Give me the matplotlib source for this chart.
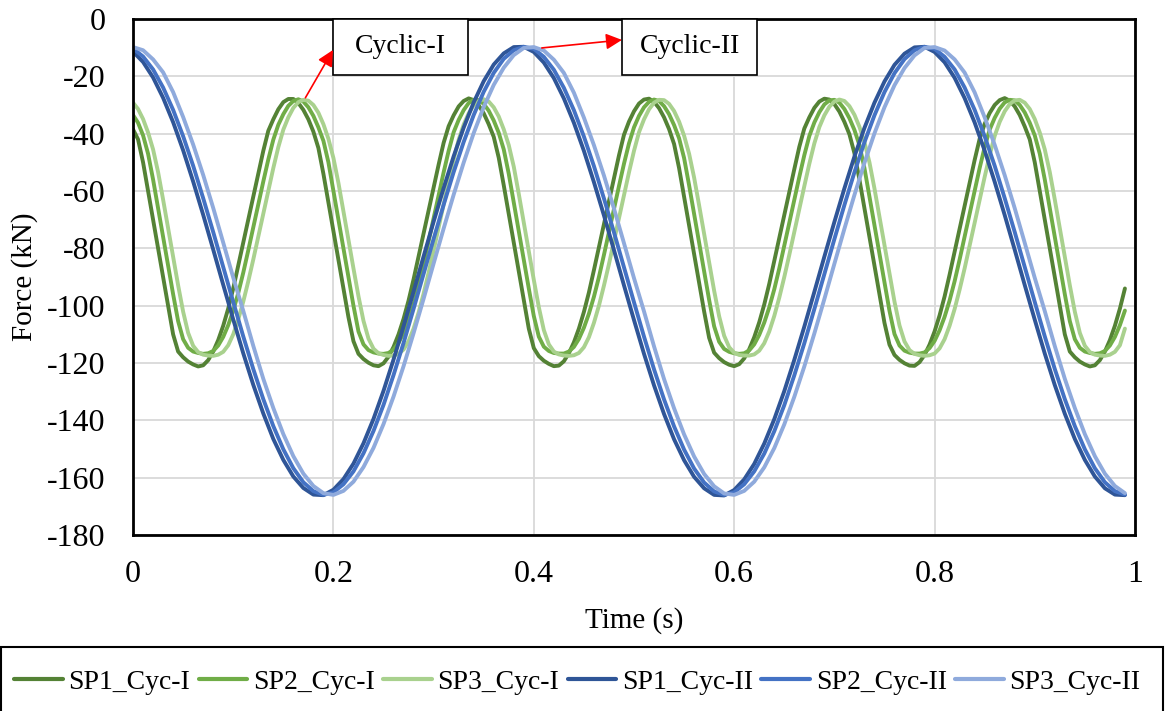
import numpy as np
import matplotlib
matplotlib.use('Agg')
import matplotlib.pyplot as plt
from matplotlib.patches import Rectangle

plt.rcParams['font.family'] = 'Liberation Serif'
plt.rcParams['axes.unicode_minus'] = False

# sampling instants (s)
time_cyc1 = np.linspace(0, 0.99, 199)   # 5 ms
time_cyc2 = np.linspace(0, 0.99, 100)   # 10 ms

# Cyclic-I force (kN)
sp1_cyc1 = [
    -38.5, -42, -50, -60, -70, -80, -90, -100, -110, -116, -118, -119.5, -120.5, -121.2, -120.8, -119,
    -116, -112, -107, -101, -94, -86, -78, -70, -62, -54, -46, -39, -35, -31.5, -29, -27.9,
    -27.9, -29.3, -31.7, -35, -39.3, -45, -54, -64, -74, -84, -94, -104, -112.4, -116.8, -118.6, -119.9,
    -120.8, -121.1, -120.1, -117.8, -114.4, -110, -104.6, -98.2, -90.8, -82.8, -74.8, -66.8, -58.8, -50.8,
    -43.2, -37.4, -33.6, -30.5, -28.6, -27.7,
    -28.3, -30.1, -32.9, -36.7, -41.1, -48.4, -58, -68, -78, -88, -98, -108, -114.8, -117.6, -119.2, -120.3,
    -121.1, -120.9, -119.4, -116.6, -112.8, -108, -102.2, -95.4, -87.6, -79.6, -71.6, -63.6, -55.6, -47.6,
    -40.4, -35.8, -32.2, -29.5, -28.1, -27.8,
    -28.9, -31.1, -34.3, -38.4, -43.6, -52, -62, -72, -82, -92, -102, -111.2, -116.4, -118.3, -119.7,
    -120.6, -121.1, -120.4, -118.4, -115.2, -111, -105.8, -99.6, -92.4, -84.4, -76.4, -68.4, -60.4, -52.4,
    -44.6, -38.2, -34.3, -31, -28.8, -27.8,
    -28.1, -29.7, -32.3, -35.9, -40.2, -46.8, -56, -66, -76, -86, -96, -106, -113.6, -117.2, -118.9, -120.1,
    -120.9, -121, -119.7, -117.2, -113.6, -109, -103.4, -96.8, -89.2, -81.2, -73.2, -65.2, -57.2, -49.2,
    -41.8, -36.6, -32.8, -30, -28.3, -27.6,
    -28.5, -30.5, -33.5, -37.5, -42, -50, -60, -70, -80, -90, -100, -110, -116, -118, -119.5, -120.5,
    -121.2, -120.8, -119, -116, -112, -107, -101, -94,
]
sp2_cyc1 = [
    -33.5, -36.2, -40.6, -47, -56, -66, -76, -86, -96, -105.4, -111.7, -114.7, -116, -116.5, -116.8, -116.6,
    -115.8, -113.9, -110.9, -106.8, -101.7, -95.6, -88.5, -80.7, -72.7, -64.7, -56.7, -49, -42.1, -36.9,
    -33.2, -30.3, -28.6, -28,
    -28.8, -30.8, -33.8, -37.8, -42.5, -50, -60, -70, -80, -90, -100, -109, -113.5, -115.5, -116.3, -116.7,
    -116.8, -116.5, -115.3, -113, -109.5, -105, -99.5, -93, -85.5, -77.5, -69.5, -61.5, -53.5, -46, -39.5,
    -35.2, -31.8, -29.3, -28.2,
    -28.3, -29.6, -32, -35.4, -39.7, -45.5, -54, -64, -74, -84, -94, -103.6, -110.8, -114.3, -115.8, -116.5,
    -116.7, -116.7, -116, -114.4, -111.6, -107.7, -102.8, -96.9, -90, -82.3, -74.3, -66.3, -58.3, -50.5,
    -43.4, -37.8, -33.8, -30.8, -28.9, -28.1,
    -28.6, -30.4, -33.2, -37, -41.6, -48.5, -58, -68, -78, -88, -98, -107.2, -112.6, -115.1, -116.1, -116.6,
    -116.8, -116.6, -115.6, -113.5, -110.2, -105.9, -100.6, -94.3, -87, -79.1, -71.1, -63.1, -55.1, -47.5,
    -40.8, -36.1, -32.5, -29.8, -28.4,
    -28.2, -29.2, -31.4, -34.6, -38.7, -44, -52, -62, -72, -82, -92, -101.8, -109.9, -113.9, -115.7, -116.4,
    -116.7, -116.7, -116.3, -114.8, -112.3, -108.6, -103.9, -98.2, -91.5, -83.9, -75.9, -67.9, -59.9, -52,
    -44.7, -38.6, -34.5, -31.3, -29.1, -28.2,
    -28.4, -30, -32.6, -36.2, -40.6, -47, -56, -66, -76, -86, -96, -105.4, -111.7, -114.7, -116, -116.5,
    -116.8, -116.6, -115.8, -113.9, -110.9, -106.8, -101.7,
]
sp3_cyc1 = [
    -29.2, -31.4, -34.9, -39.6, -45.5, -53.4, -63, -73, -83, -92.9, -102.1, -109.5, -114, -116.2, -117.1,
    -117.4, -117.5, -117.1, -116.1, -113.8, -110, -104.8, -98.6, -91.5, -83.9, -75.9, -67.9, -59.9, -52,
    -44.7, -38.6, -34.3, -31, -29, -28.2,
    -28.5, -30, -32.7, -36.7, -41.8, -48.5, -57.2, -67, -77, -87, -96.7, -105.3, -111.5, -115, -116.6,
    -117.2, -117.5, -117.4, -116.8, -115.3, -112.4, -108, -102.4, -95.8, -88.5, -80.7, -72.7, -64.7, -56.7,
    -49, -42.1, -36.8, -32.9, -30.1, -28.6,
    -28, -28.8, -30.8, -34, -38.5, -44, -51.5, -61, -71, -81, -91, -100.5, -108.5, -113.5, -116, -117,
    -117.4, -117.5, -117.3, -116.5, -114.5, -111, -106, -100, -93, -85.5, -77.5, -69.5, -61.5, -53.5, -46,
    -39.5, -35, -31.5, -29.2, -28.2,
    -28.3, -29.6, -32.1, -35.8, -40.7, -47, -55.3, -65, -75, -85, -94.8, -103.7, -110.5, -114.5, -116.4,
    -117.2, -117.4, -117.4, -117, -115.7, -113.1, -109, -103.6, -97.2, -90, -82.3, -74.3, -66.3, -58.3,
    -50.5, -43.4, -37.7, -33.6, -30.6, -28.8, -28.1,
    -28.6, -30.4, -33.4, -37.6, -42.9, -50, -59.1, -69, -79, -89, -98.6, -106.9, -112.5, -115.5, -116.8,
    -117.3, -117.5, -117.3, -116.7, -114.9, -111.7, -107, -101.2, -94.4, -87, -79.1, -71.1, -63.1, -55.1,
    -47.5, -40.8, -35.9, -32.2, -29.7, -28.4,
    -28.2, -29.2, -31.4, -34.9, -39.6, -45.5, -53.4, -63, -73, -83, -92.9, -102.1, -109.5, -114, -116.2,
    -117.1, -117.4, -117.5, -117.1, -116.1, -113.8, -108,
]

# Cyclic-II force (kN)
sp1_cyc2 = [
    -11.4, -15.0, -20.4, -27.5, -36.0, -45.8, -56.7, -68.3, -80.4, -92.7, -104.8, -116.6, -127.6, -137.6,
    -146.5, -153.8, -159.6, -163.6, -165.9, -166.1, -164.2, -160.5, -155.1, -148.0, -139.5, -129.7, -118.8,
    -107.2, -95.1, -82.8, -70.7, -59.0, -47.9, -37.9, -29.1, -21.7, -15.9, -12.0, -9.8, -9.7,
    -11.5, -15.2, -20.6, -27.7, -36.2, -46.0, -56.9, -68.5, -80.6, -92.9, -105.0, -116.8, -127.8, -137.8,
    -146.6, -153.9, -159.7, -163.7, -166.0, -166.2, -164.3, -160.6, -155.2, -148.1, -139.6, -129.8, -118.9,
    -107.3, -95.2, -82.9, -70.8, -59.1, -48.0, -38.0, -29.2, -21.8, -16.0, -12.1, -9.9, -9.7,
    -11.5, -15.1, -20.5, -27.6, -36.1, -45.9, -56.8, -68.4, -80.5, -92.8, -104.9, -116.7, -127.7, -137.7,
    -146.5, -153.8, -159.6, -163.7, -165.9, -166.1,
]
sp2_cyc2 = [
    -10.3, -13.1, -17.6, -23.9, -31.7, -40.9, -51.2, -62.5, -74.3, -86.5, -98.7, -110.7, -122.1, -132.6,
    -142.0, -150.1, -156.7, -161.6, -164.7, -166.0, -165.1, -162.3, -157.8, -151.5, -143.7, -134.6, -124.2,
    -113.0, -101.1, -88.9, -76.7, -64.8, -53.4, -42.9, -33.5, -25.4, -18.8, -13.9, -10.9, -9.7,
    -10.4, -13.2, -17.7, -24.0, -31.8, -41.0, -51.3, -62.6, -74.4, -86.6, -98.8, -110.8, -122.2, -132.7,
    -142.1, -150.2, -156.8, -161.7, -164.8, -166.0, -165.1, -162.3, -157.8, -151.6, -143.8, -134.7, -124.3,
    -113.1, -101.2, -89.0, -76.8, -64.9, -53.5, -43.0, -33.6, -25.5, -18.9, -14.0, -10.9, -9.7,
    -10.4, -13.2, -17.6, -23.9, -31.7, -40.9, -51.2, -62.5, -74.3, -86.5, -98.7, -110.7, -122.1, -132.6,
    -142.0, -150.1, -156.7, -161.6, -164.7, -165.9,
]
sp3_cyc2 = [
    -9.8, -10.9, -14.1, -18.6, -25.5, -34.2, -43.8, -54.4, -65.9, -78.0, -90.2, -101.8, -114.0, -125.5,
    -135.7, -144.8, -152.5, -158.6, -162.9, -165.4, -166.0, -164.6, -161.4, -156.3, -149.6, -141.3, -131.7,
    -121.1, -109.6, -97.6, -85.3, -73.1, -61.3, -50.1, -39.8, -30.7, -23.0, -17.0, -12.6, -10.1,
    -9.8, -11.0, -14.2, -18.8, -25.7, -34.4, -44.0, -54.6, -66.1, -78.2, -90.4, -102.0, -114.2, -125.6,
    -135.8, -144.9, -152.6, -158.7, -163.0, -165.5, -166.0, -164.6, -161.4, -156.4, -149.7, -141.4, -131.8,
    -121.2, -109.7, -97.7, -85.4, -73.2, -61.4, -50.2, -39.9, -30.8, -23.1, -17.1, -12.7, -10.1,
    -9.8, -11.0, -14.1, -18.7, -25.6, -34.3, -43.9, -54.5, -66.0, -78.1, -90.3, -101.9, -114.1, -125.5,
    -135.7, -144.8, -152.5, -158.6, -162.9, -165.4,
]

labels = ['SP1_Cyc-I', 'SP2_Cyc-I', 'SP3_Cyc-I', 'SP1_Cyc-II', 'SP2_Cyc-II', 'SP3_Cyc-II']
colors = ['#548235', '#70AD47', '#A9D18E', '#2F5597', '#4472C4', '#8FAADC']

fig = plt.figure(figsize=(11.65, 7.11), dpi=100)
ax = fig.add_axes([0.1142, 0.2475, 0.86, 0.7258])

series = [(time_cyc1, sp1_cyc1), (time_cyc1, sp2_cyc1), (time_cyc1, sp3_cyc1),
          (time_cyc2, sp1_cyc2), (time_cyc2, sp2_cyc2), (time_cyc2, sp3_cyc2)]
lines = []
for (t, f), lab, col in zip(series, labels, colors):
    ln, = ax.plot(t, f, color=col, lw=2.8, label=lab, solid_capstyle='round')
    lines.append(ln)

ax.set_xlim(0, 1)
ax.set_ylim(-180, 0)
ax.set_xticks([0, 0.2, 0.4, 0.6, 0.8, 1])
ax.set_xticklabels(['0', '0.2', '0.4', '0.6', '0.8', '1'])
ax.set_yticks(np.arange(-180, 1, 20))
ax.grid(True, color='#d9d9d9', lw=1.3)
ax.set_axisbelow(True)
for sp in ax.spines.values():
    sp.set_linewidth(2)
    sp.set_color('black')
ax.tick_params(length=0, labelsize=23)
ax.tick_params(axis='y', pad=20)
ax.tick_params(axis='x', pad=18)

ax.set_xlabel('Time (s)', fontsize=21)
ax.set_ylabel('Force (kN)', fontsize=21)
ax.xaxis.set_label_coords(0.5, -0.14)
ax.yaxis.set_label_coords(-0.095, 0.5)

# annotation boxes
for x0, txt in [(0.1996, 'Cyclic-I'), (0.488, 'Cyclic-II')]:
    ax.add_patch(Rectangle((x0, -19.5), 0.135, 19.5, facecolor='white', edgecolor='black',
                           lw=1.2, zorder=6, clip_on=False))
    ax.text(x0 + 0.0675, -9.6, txt, ha='center', va='center', fontsize=20, zorder=7)

arrow = dict(arrowstyle='-|>', color='red', lw=1.2, mutation_scale=24, shrinkA=0, shrinkB=0)
ax.annotate('', xy=(0.1996, -10.8), xytext=(0.172, -27.5), arrowprops=arrow, zorder=8)
ax.annotate('', xy=(0.488, -7.3), xytext=(0.408, -10.1), arrowprops=arrow, zorder=8)

# legend: entries without frame, box drawn across the full width
leg = fig.legend(lines, labels, loc='center left', bbox_to_anchor=(0.012, 0.041),
                 ncol=6, fontsize=20, frameon=False, borderaxespad=0, borderpad=0,
                 handlelength=1.76, handletextpad=0.2, columnspacing=0.3)
for h in leg.get_lines():
    h.set_linewidth(3)
fig.patches.append(Rectangle((0.0009, -0.05), 0.9974, 0.14, transform=fig.transFigure,
                             fill=False, edgecolor='black', lw=1.5))

fig.savefig('out.png', dpi=100)
